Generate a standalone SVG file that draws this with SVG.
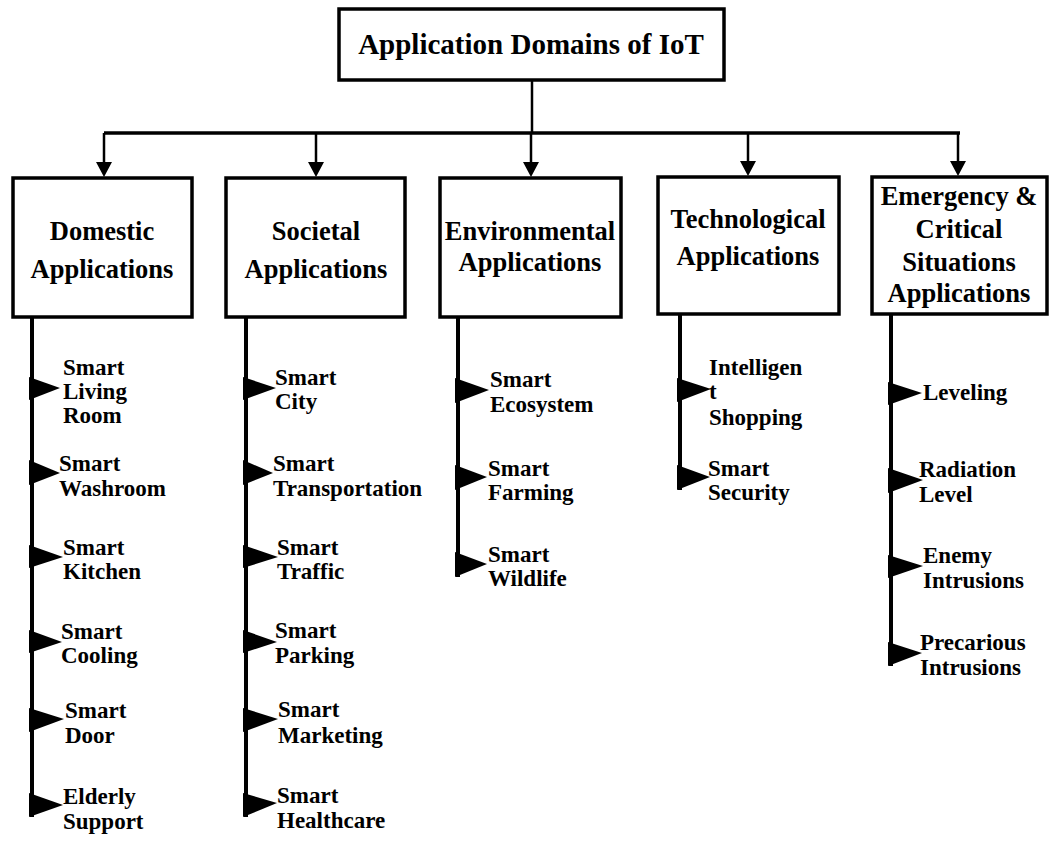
<svg xmlns="http://www.w3.org/2000/svg" width="1049" height="847" viewBox="0 0 1049 847">
<style>
.box{fill:#fff;stroke:#000;stroke-width:3.5}
.t{font-family:"Liberation Serif","Times New Roman",serif;font-weight:bold;fill:#000}
.h{font-size:29px;text-anchor:middle}
.b{font-size:26.5px;text-anchor:middle}
.i{font-size:23px}
.bus{stroke:#000;stroke-width:3.5;fill:none}
.drop{stroke:#000;stroke-width:2.5;fill:none}
.stem{stroke:#000;stroke-width:4;fill:none}
.tri{fill:#000}
</style>
<g id="connectors">
<line class="drop" x1="532" y1="80" x2="532" y2="133"/>
<line class="bus" x1="104" y1="133" x2="960" y2="133"/>
<path class="drop" d="M104,133 L104,162"/>
<path d="M96,162 L112,162 L104,177 Z" class="tri"/>
<path class="drop" d="M316,133 L316,162"/>
<path d="M308,162 L324,162 L316,177 Z" class="tri"/>
<path class="drop" d="M531,133 L531,162"/>
<path d="M523,162 L539,162 L531,177 Z" class="tri"/>
<path class="drop" d="M748,133 L748,161"/>
<path d="M740,161 L756,161 L748,176 Z" class="tri"/>
<path class="drop" d="M958,133 L958,161"/>
<path d="M950,161 L966,161 L958,176 Z" class="tri"/>
<line class="stem" x1="32" y1="317" x2="32" y2="817"/>
<line class="stem" x1="246" y1="315" x2="246" y2="817"/>
<line class="stem" x1="458" y1="318" x2="458" y2="577"/>
<line class="stem" x1="680" y1="315" x2="680" y2="490"/>
<line class="stem" x1="891" y1="315" x2="891" y2="666"/>
<polygon class="tri" points="29,377 29,400 60,388"/>
<polygon class="tri" points="29,460 29,485 60,473"/>
<polygon class="tri" points="29,545 29,568 63,557"/>
<polygon class="tri" points="29,630 29,653 62,642"/>
<polygon class="tri" points="29,708 29,732 64,719"/>
<polygon class="tri" points="29,793 29,817 63,805"/>
<polygon class="tri" points="243,377 243,400 276,388"/>
<polygon class="tri" points="243,460 243,485 273,473"/>
<polygon class="tri" points="243,545 243,568 278,557"/>
<polygon class="tri" points="243,630 243,653 277,642"/>
<polygon class="tri" points="243,708 243,732 278,719"/>
<polygon class="tri" points="243,793 243,817 277,803"/>
<polygon class="tri" points="455,378 455,403 489,390"/>
<polygon class="tri" points="455,465 455,490 487,477"/>
<polygon class="tri" points="455,552 455,577 487,564"/>
<polygon class="tri" points="677,378 677,402 711,389"/>
<polygon class="tri" points="677,465 677,490 710,477"/>
<polygon class="tri" points="888,382 888,405 922,393"/>
<polygon class="tri" points="888,468 888,493 923,480"/>
<polygon class="tri" points="888,555 888,578 923,566"/>
<polygon class="tri" points="888,642 888,666 922,653"/>
</g>
<g id="root">
<rect class="box" x="339" y="9" width="385" height="71" stroke-width="3"/>
<text class="t h" x="531" y="54">Application Domains of IoT</text>
</g>
<g id="domestic">
<rect class="box" x="13" y="178" width="179" height="139"/>
<text class="t b" x="102" y="240">Domestic</text>
<text class="t b" x="102" y="278">Applications</text>
</g>
<g id="societal">
<rect class="box" x="226" y="178" width="179" height="139"/>
<text class="t b" x="316" y="240">Societal</text>
<text class="t b" x="316" y="278">Applications</text>
</g>
<g id="environmental">
<rect class="box" x="440" y="178" width="181" height="139"/>
<text class="t b" x="530" y="240">Environmental</text>
<text class="t b" x="530" y="271">Applications</text>
</g>
<g id="technological">
<rect class="box" x="658" y="177" width="181" height="137"/>
<text class="t b" x="748" y="228">Technological</text>
<text class="t b" x="748" y="265">Applications</text>
</g>
<g id="emergency">
<rect class="box" x="872" y="177" width="175" height="137"/>
<text class="t b" x="959" y="205">Emergency &amp;</text>
<text class="t b" x="959" y="238">Critical</text>
<text class="t b" x="959" y="271">Situations</text>
<text class="t b" x="959" y="302">Applications</text>
</g>
<g id="domestic-items">
<text class="t i" x="63" y="375">Smart</text>
<text class="t i" x="63" y="399">Living</text>
<text class="t i" x="63" y="423">Room</text>
<text class="t i" x="59" y="471">Smart</text>
<text class="t i" x="59" y="496">Washroom</text>
<text class="t i" x="63" y="555">Smart</text>
<text class="t i" x="63" y="579">Kitchen</text>
<text class="t i" x="61" y="639">Smart</text>
<text class="t i" x="61" y="663">Cooling</text>
<text class="t i" x="65" y="718">Smart</text>
<text class="t i" x="65" y="743">Door</text>
<text class="t i" x="63" y="804">Elderly</text>
<text class="t i" x="63" y="829">Support</text>
</g>
<g id="societal-items">
<text class="t i" x="275" y="385">Smart</text>
<text class="t i" x="275" y="409">City</text>
<text class="t i" x="273" y="471">Smart</text>
<text class="t i" x="273" y="496">Transportation</text>
<text class="t i" x="277" y="555">Smart</text>
<text class="t i" x="277" y="579">Traffic</text>
<text class="t i" x="275" y="638">Smart</text>
<text class="t i" x="275" y="663">Parking</text>
<text class="t i" x="278" y="717">Smart</text>
<text class="t i" x="278" y="743">Marketing</text>
<text class="t i" x="277" y="803">Smart</text>
<text class="t i" x="277" y="828">Healthcare</text>
</g>
<g id="environmental-items">
<text class="t i" x="490" y="387">Smart</text>
<text class="t i" x="490" y="412">Ecosystem</text>
<text class="t i" x="488" y="476">Smart</text>
<text class="t i" x="488" y="500">Farming</text>
<text class="t i" x="488" y="562">Smart</text>
<text class="t i" x="488" y="586">Wildlife</text>
</g>
<g id="technological-items">
<text class="t i" x="709" y="375">Intelligen</text>
<text class="t i" x="709" y="399">t</text>
<text class="t i" x="709" y="425">Shopping</text>
<text class="t i" x="708" y="476">Smart</text>
<text class="t i" x="708" y="500">Security</text>
</g>
<g id="emergency-items">
<text class="t i" x="923" y="400">Leveling</text>
<text class="t i" x="919" y="477">Radiation</text>
<text class="t i" x="919" y="502">Level</text>
<text class="t i" x="923" y="563">Enemy</text>
<text class="t i" x="923" y="588">Intrusions</text>
<text class="t i" x="920" y="650">Precarious</text>
<text class="t i" x="920" y="675">Intrusions</text>
</g>
</svg>
